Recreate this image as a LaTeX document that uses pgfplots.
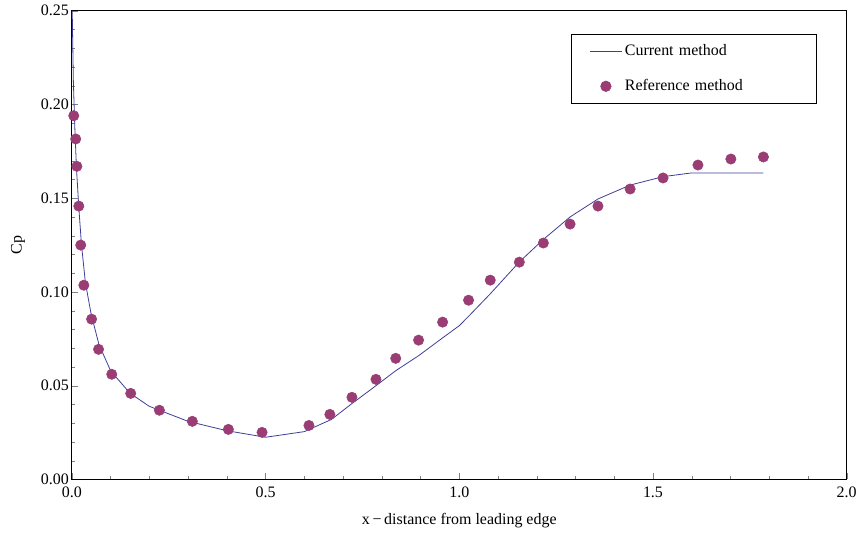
\documentclass[border=0pt]{standalone}
\usepackage{fontspec}
\setmainfont{Liberation Serif}
\usepackage{pgfplots}
\pgfplotsset{compat=1.18}
\definecolor{lineblue}{RGB}{61,61,153}
\definecolor{dotpurple}{RGB}{153,61,116}
\pgfplotsset{
  mylineleg/.style={legend image code/.code={\draw[##1] (0pt,0pt) -- (24pt,0pt);}},
  mymarkleg/.style={legend image code/.code={\draw[mark repeat=2,mark phase=2,##1] plot coordinates {(0pt,0pt) (12pt,0pt) (24pt,0pt)};}},
}
\begin{document}
\fontsize{12pt}{14pt}\selectfont
\begin{tikzpicture}
\begin{axis}[
  scale only axis,
  width=582.75pt, height=352.5pt,
  xmin=0, xmax=2, ymin=0, ymax=0.25,
  axis line style={line width=0.6pt},
  xtick={0,0.5,1,1.5,2},
  ytick={0,0.05,0.1,0.15,0.2,0.25},
  minor xtick={0.1,0.2,0.3,0.4,0.6,0.7,0.8,0.9,1.1,1.2,1.3,1.4,1.6,1.7,1.8,1.9},
  minor ytick={0.01,0.02,0.03,0.04,0.06,0.07,0.08,0.09,0.11,0.12,0.13,0.14,0.16,0.17,0.18,0.19,0.21,0.22,0.23,0.24},
  tick pos=left,
  tick align=inside,
  major tick length=4.5pt,
  minor tick length=2.5pt,
  xticklabel style={/pgf/number format/.cd,fixed,fixed zerofill,precision=1},
  yticklabel style={/pgf/number format/.cd,fixed,fixed zerofill,precision=2},
  /pgf/number format/assume math mode=true,
  scaled y ticks=false,
  xticklabel shift=1.5pt,
  yticklabel shift=-2pt,
  xlabel={x\,\textminus\,distance from leading edge},
  ylabel={Cp},
  xlabel style={at={(axis description cs:0.5,-0.0872)}, anchor=center},
  ylabel style={at={(axis description cs:-0.0695,0.5)}, anchor=center},
  legend style={at={(rel axis cs:0.9614,0.951)}, anchor=north east,
    draw=black, line width=0.6pt, inner xsep=14pt, inner ysep=6pt,
    row sep=12pt, font=\fontsize{12pt}{14pt}\selectfont,
    /tikz/every even column/.append style={text width=128pt}},
  legend cell align=left,
  clip=false,
]
\path (axis description cs:-0.0927,-0.1149) rectangle (axis description cs:1.0167,1.0213);
\addplot[lineblue, line width=0.6pt, mark=none, mylineleg] coordinates {
(0.001,0.250) (0.004,0.212) (0.008,0.186) (0.012,0.166) (0.018,0.145)
(0.025,0.125) (0.035,0.105) (0.050,0.088) (0.070,0.072) (0.100,0.058)
(0.150,0.046) (0.200,0.039) (0.300,0.031) (0.400,0.026) (0.500,0.0225)
(0.600,0.0255) (0.670,0.032) (0.720,0.040) (0.785,0.050) (0.836,0.058)
(0.895,0.066) (0.957,0.0755) (1.000,0.082) (1.024,0.087) (1.080,0.099)
(1.155,0.116) (1.217,0.128) (1.286,0.140) (1.358,0.1496) (1.441,0.1570)
(1.526,0.1615) (1.600,0.1635) (1.700,0.1635) (1.785,0.1635)
};
\addlegendentry{Current method}
\addplot[only marks, mark=*, mark size=3.9pt, color=dotpurple, mark options={draw=dotpurple, fill=dotpurple}, mymarkleg] coordinates {
(0.005,0.194) (0.010,0.1816) (0.013,0.167) (0.018,0.1458) (0.023,0.125)
(0.031,0.1036) (0.051,0.0855) (0.069,0.0694) (0.103,0.0561) (0.152,0.0459)
(0.226,0.0369) (0.311,0.031) (0.404,0.0267) (0.491,0.0251) (0.612,0.0288)
(0.666,0.0347) (0.723,0.0438) (0.785,0.0534) (0.836,0.0646) (0.895,0.0743)
(0.957,0.0839) (1.024,0.0956) (1.080,0.1063) (1.155,0.1159) (1.217,0.1261)
(1.286,0.1362) (1.358,0.1458) (1.441,0.1549) (1.526,0.1608) (1.616,0.1677)
(1.701,0.1709) (1.785,0.1720)
};
\addlegendentry{Reference method}
\end{axis}
\end{tikzpicture}
\end{document}
